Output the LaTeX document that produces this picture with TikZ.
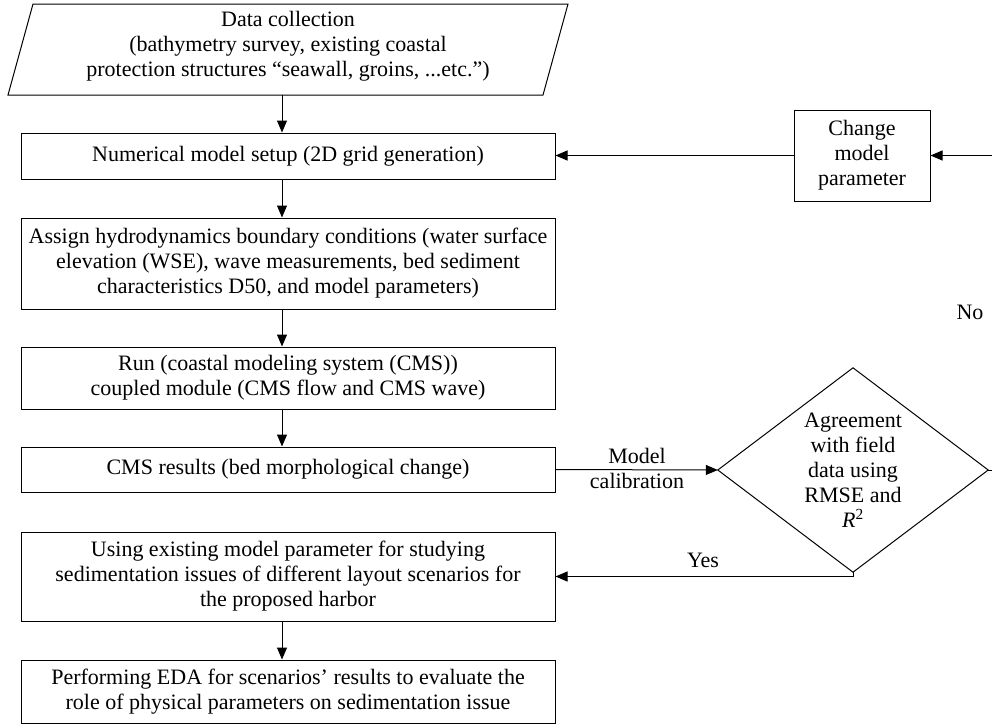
\documentclass[tikz,border=0pt]{standalone}
\usepackage{fontspec}
\setmainfont{Liberation Serif}
\usetikzlibrary{arrows.meta,calc}
\begin{document}
\begin{tikzpicture}[x=1pt,y=-1pt,
  every node/.style={font=\fontsize{22}{25}\selectfont, align=center, inner sep=0pt},
  procbox/.style={draw, line width=1pt, minimum width=534pt},
  conn/.style={line width=1pt},
  arr/.style={line width=1pt, -{Triangle[length=12pt,width=10pt]}}]
\useasboundingbox (0,0) rectangle (992,724);

% data collection (parallelogram)
\node[minimum width=535pt, minimum height=91pt] (dc) at (288,49.5) {};
\draw[conn] (8,95) -- (33,4) -- (568,4) -- (543,95) -- cycle;
\node (dctext) at (288,46) {Data collection\\(bathymetry survey, existing coastal\\protection structures \textquotedblleft seawall, groins, ...etc.\textquotedblright)};

\node[procbox, minimum height=46pt] (b2) at (288,156) {Numerical model setup (2D grid generation)};
\node[procbox, minimum height=91pt] (b3) at (288,263.5) {Assign hydrodynamics boundary conditions (water surface\\elevation (WSE), wave measurements, bed sediment\\characteristics D50, and model parameters)};
\node[procbox, minimum height=62pt] (b4) at (288,378) {Run (coastal modeling system (CMS))\\coupled module (CMS flow and CMS wave)};
\node[procbox, minimum height=45pt] (b5) at (288,469.5) {CMS results (bed morphological change)};
\node[procbox, minimum height=89pt] (b6) at (288,576.5) {Using existing model parameter for studying\\sedimentation issues of different layout scenarios for\\the proposed harbor};
\node[procbox, minimum height=63pt] (b7) at (288,691.5) {Performing EDA for scenarios\textquoteright{} results to evaluate the\\role of physical parameters on sedimentation issue};

\node[draw, line width=1pt, minimum width=136pt, minimum height=91pt] (chg) at (862,155.5) {Change\\model\\parameter};

\node[minimum width=270pt, minimum height=204pt] (dia) at (853,470) {Agreement\\with field\\data using\\RMSE and\\\textit{R}\textsuperscript{2}};
\draw[conn] (dia.north) -- (dia.east) -- (dia.south) -- (dia.west) -- cycle;

% labels
\node (mc) at (637,468) {Model\\calibration};
\node (yes) at (703,560) {Yes};
\node (no) at (970,312) {No};

% connectors
\draw[arr] ([xshift=-6pt]dc.south) -- ([xshift=-6pt]b2.north);
\draw[arr] ([xshift=-6pt]b2.south) -- ([xshift=-6pt]b3.north);
\draw[arr] ([xshift=-6pt]b3.south) -- ([xshift=-6pt]b4.north);
\draw[arr] ([xshift=-6pt]b4.south) -- ([xshift=-6pt]b5.north);
\draw[arr] ([xshift=-6pt]b6.south) -- ([xshift=-6pt]b7.north);

\draw[arr] (b5.east) -- (dia.west);
\draw[arr] (dia.south) -- (dia.south |- b6.east) -- (b6.east);
\coordinate (rmid) at (992,470);
\draw[conn] (dia.east) -- (rmid);
\coordinate (rtop) at (992,155.5);
\draw[arr] (rtop) -- (chg.east);
\draw[arr] (chg.west) -- (chg.west -| b2.east);
\end{tikzpicture}
\end{document}
